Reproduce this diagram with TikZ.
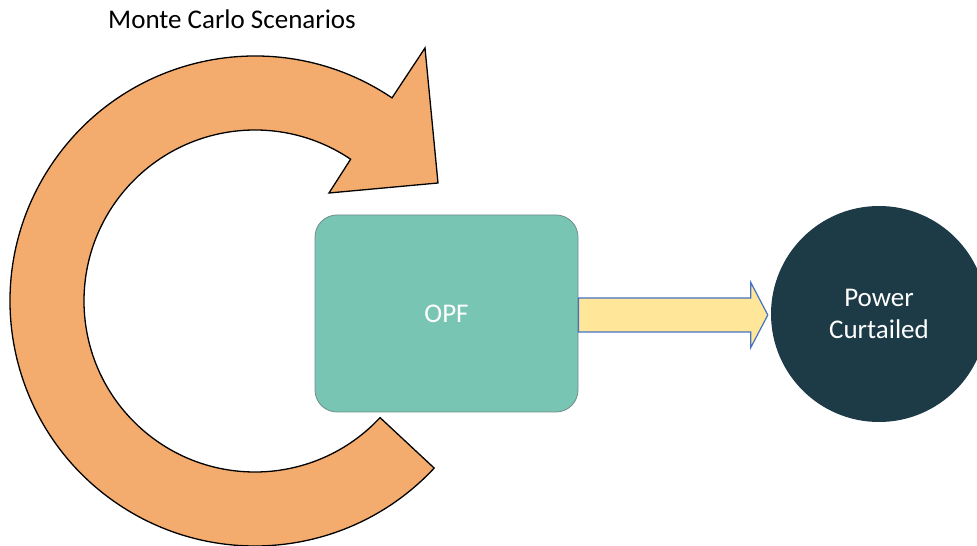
\documentclass[tikz,border=0pt]{standalone}
\usepackage{fontspec}
\setmainfont{Carlito}
\usetikzlibrary{calc}
\definecolor{ringfill}{HTML}{F4AC6E}
\definecolor{boxfill}{HTML}{79C5B4}
\definecolor{boxline}{HTML}{6F8F88}
\definecolor{circfill}{HTML}{1D3A47}
\definecolor{arrfill}{HTML}{FFE699}
\definecolor{arrline}{HTML}{4472C4}
\tikzset{
  ringshape/.style={fill=ringfill, draw=black, line width=1.3pt, line join=miter},
  opfbox/.style={rectangle, rounded corners=22pt, fill=boxfill, draw=boxline, line width=0.8pt,
    minimum width=263pt, minimum height=197pt, text=white, font=\fontsize{27}{32}\selectfont},
  resultcirc/.style={circle, fill=circfill, minimum size=216pt, inner sep=0pt, text=white,
    align=center, font=\fontsize{27}{32}\selectfont},
  blockarrow/.style={fill=arrfill, draw=arrline, line width=1.2pt, line join=miter},
  titletext/.style={font=\fontsize{27}{32}\selectfont, text=black}
}
\begin{document}
\begin{tikzpicture}[x=1pt,y=1pt]
\useasboundingbox (0,0) rectangle (977,546);
\clip (0,0) rectangle (977,546);
\fill[white] (0,0) rectangle (977,546);
% circular arrow
\coordinate (c) at (255,245);
\filldraw[ringshape] ($(c)+(56:245)$) arc[start angle=56, end angle=317, radius=245]
  -- ($(c)+(317:171)$) arc[start angle=317, end angle=56, radius=171]
  -- (329,353) -- (438,363) -- (425,498) -- cycle;
% nodes
\node[opfbox] (opf) at (446.5,232.5) {OPF};
\node[resultcirc] (out) at (879,232) {Power\\Curtailed};
\node[titletext] (title) at (232,527) {Monte Carlo Scenarios};
% block arrow
\coordinate (as) at ($(opf.east)+(0,-1.5)$);
\coordinate (at) at ($(out.west)+(-3,-1)$);
\filldraw[blockarrow] ($(as)+(0,17)$) -- ($(at)+(-17,17)$) -- ($(at)+(-17,32.5)$) -- (at)
  -- ($(at)+(-17,-32.5)$) -- ($(at)+(-17,-17)$) -- ($(as)+(0,-17)$) -- cycle;
\end{tikzpicture}
\end{document}
